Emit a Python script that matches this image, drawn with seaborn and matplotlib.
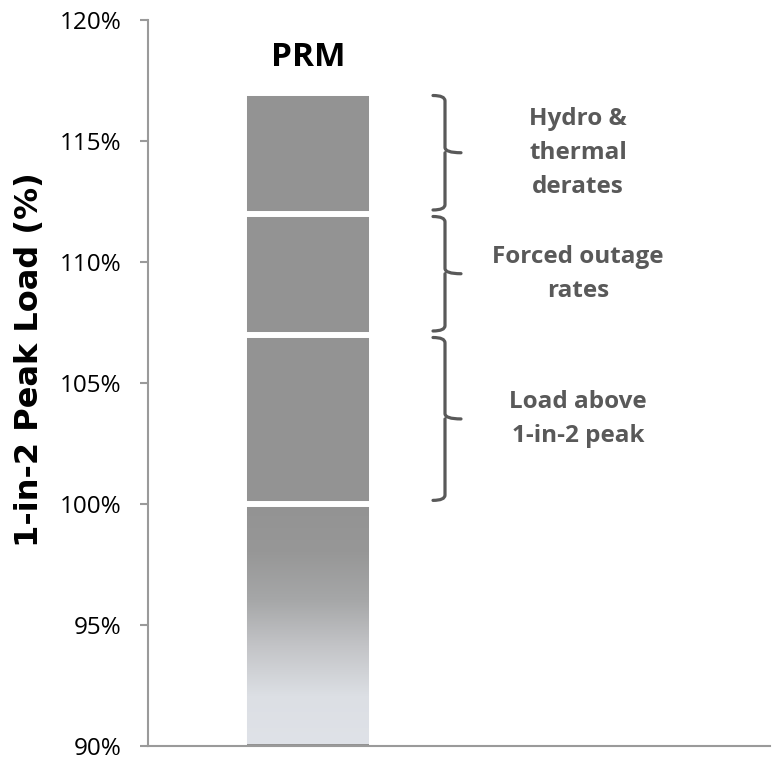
import numpy as np
import pandas as pd
import matplotlib
matplotlib.use("Agg")
import matplotlib.pyplot as plt
import matplotlib.transforms as mtransforms
from matplotlib.path import Path
from matplotlib.patches import PathPatch
from matplotlib.colors import LinearSegmentedColormap
import seaborn as sns

# ---- data ----
categories = ["PRM"]
segment_names = ["1-in-2 peak", "Load above\n1-in-2 peak", "Forced outage\nrates", "Hydro &\nthermal\nderates"]
segment_sizes = [100, 7, 5, 5]          # % of 1-in-2 peak load
y_ticks = [90, 95, 100, 105, 110, 115, 120]
y_tick_labels = ["90%", "95%", "100%", "105%", "110%", "115%", "120%"]
y_min, y_max = 90, 120

sns.set_theme(style="ticks")
plt.rcParams["font.family"] = ["Open Sans", "DejaVu Sans"]

fig = plt.figure(figsize=(7.75, 7.59), dpi=100)
ax = fig.add_axes([148 / 775, 1 - 746 / 759, 622 / 775, 726 / 759])

tops = np.cumsum(segment_sizes)
bar_color = "#939393"
edge_w = 4.3

# draw cumulative bars from tallest to shortest so white edges separate them
containers = []
for i in range(len(tops) - 1, -1, -1):
    df = pd.DataFrame({"cat": categories, "val": [tops[i]]})
    sns.barplot(data=df, x="cat", y="val", ax=ax, color=bar_color,
                saturation=1, width=0.6, edgecolor="white", linewidth=edge_w,
                zorder=2)
    containers.append(ax.patches[-1])

# gradient for the base segment
base_patch = containers[-1]
bx, bw = base_patch.get_x(), base_patch.get_width()
cmap = LinearSegmentedColormap.from_list(
    "g", ["#dfe2e8", "#dcdfe4", "#c4c5c8", "#a6a7a8", "#979797", "#939393"])
grad = np.linspace(0, 1, 256).reshape(-1, 1)
im = ax.imshow(grad, cmap=cmap, aspect="auto", origin="lower",
               extent=[bx, bx + bw, y_min + 0.1, tops[0]], zorder=2.5,
               interpolation="bilinear")
im.set_clip_path(base_patch)
base_patch.set_facecolor("none")
base_patch.set_zorder(3)

ax.set_xlim(-0.75, 2.166)
ax.set_ylim(y_min, y_max)
ax.set_yticks(y_ticks)
ax.set_yticklabels(y_tick_labels)
ax.set_xticks([])
ax.set_xlabel("")
ax.set_ylabel("")

for s in ["top", "right"]:
    ax.spines[s].set_visible(False)
for s in ["left", "bottom"]:
    ax.spines[s].set_color("#9a9a9a")
    ax.spines[s].set_linewidth(1.5)
ax.spines["bottom"].set_zorder(4)
ax.tick_params(axis="y", length=6, width=1.5, color="#9a9a9a", pad=13,
               labelsize=17.5, labelcolor="#000000")

# category label above the bar
ax.text(0, 118.45, categories[0], ha="center", va="center",
        fontsize=24, fontweight="bold", color="black")

# y axis title
ax.text(-0.19, 0.532, "1-in-2 Peak Load (%)", transform=ax.transAxes,
        rotation=90, ha="center", va="center", fontsize=23,
        fontweight="bold", color="black", family=["DejaVu Sans"])

# braces and annotations
trans = mtransforms.blended_transform_factory(ax.transAxes, ax.transData)
x_hook, x_line, x_tip = (433 - 148) / 622, (445 - 148) / 622, (461 - 148) / 622
r = 0.22
lowers = tops - np.array(segment_sizes)
for k in range(1, len(segment_sizes)):
    lo, hi = lowers[k] + 0.15, tops[k] - 0.12
    mid = (lo + hi) / 2
    verts = [
        (x_hook, hi), (x_line, hi), (x_line, hi - r),
        (x_line, mid + r), (x_line, mid), (x_tip, mid),
        (x_line, mid), (x_line, mid - r),
        (x_line, lo + r), (x_line, lo), (x_hook, lo),
    ]
    codes = [Path.MOVETO, Path.CURVE3, Path.CURVE3,
             Path.LINETO, Path.CURVE3, Path.CURVE3,
             Path.MOVETO, Path.LINETO,
             Path.LINETO, Path.CURVE3, Path.CURVE3]
    ax.add_patch(PathPatch(Path(verts, codes), transform=trans, fill=False,
                           edgecolor="#595959", linewidth=2.3,
                           capstyle="round", joinstyle="round", clip_on=False))
    ax.text((578 - 148) / 622, (lowers[k] + tops[k]) / 2, segment_names[k],
            transform=trans, ha="center", va="center", fontsize=17.5,
            fontweight="bold", color="#595959", linespacing=1.55,
            multialignment="center")

fig.savefig("out.png", dpi=100)
